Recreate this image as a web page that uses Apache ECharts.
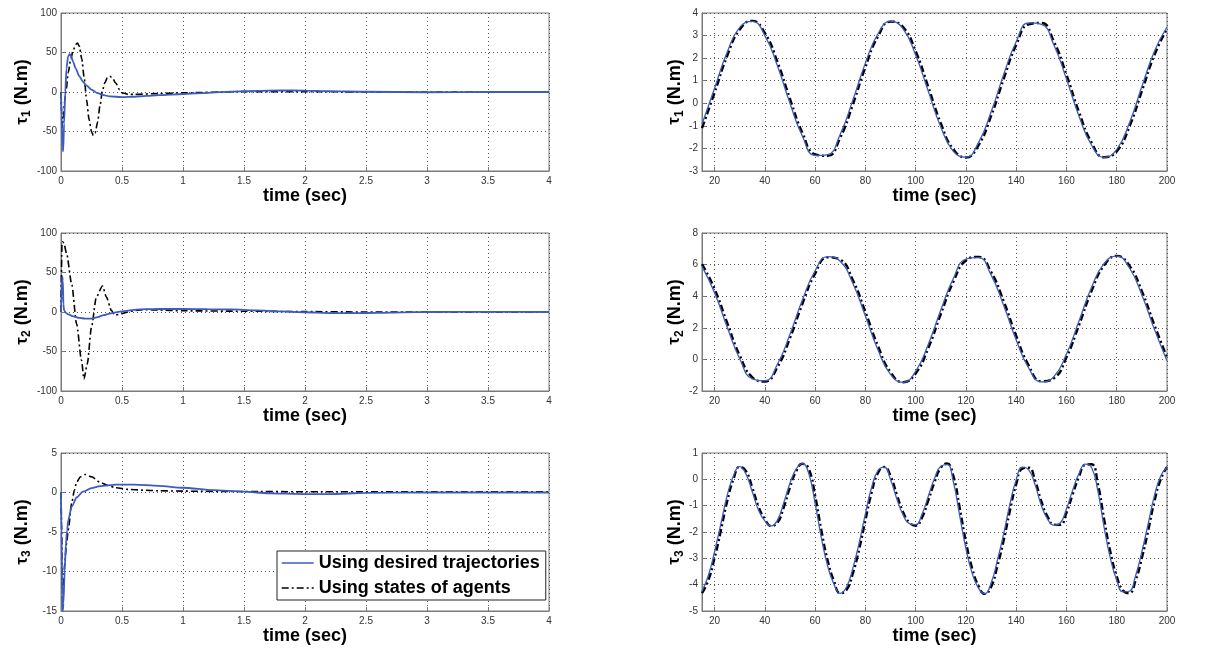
<!DOCTYPE html>
<html>
<head>
<meta charset="utf-8">
<script src="https://cdn.jsdelivr.net/npm/echarts@6/dist/echarts.min.js"></script>
<style>
  html, body { margin: 0; padding: 0; background: #ffffff; }
  #main { width: 1210px; height: 649px; }
</style>
</head>
<body>
<div id="main"></div>
<script>
// ---------- Transient joint torques, 0 .. 4 s ----------
const tau1DesT = [0, 0.005, 0.012, 0.018, 0.025, 0.035, 0.045, 0.058, 0.07, 0.082, 0.1, 0.12, 0.15, 0.18, 0.21, 0.25, 0.3, 0.35, 0.4, 0.5, 0.6, 0.7, 0.8, 1.0, 1.2, 1.4, 1.6, 1.8, 2.0, 2.2, 2.5, 3.0, 3.5, 4.0];
const tau1DesV = [0, -30, -70, -75, -40, 0, 30, 45, 48, 46, 38, 30, 20, 13, 8, 3, -1.5, -4, -5.5, -6.5, -6, -5, -4, -2.5, -1, 0.5, 1.5, 2, 1.8, 1, 0.3, -0.3, 0, 0];
const tau1StT = [0, 0.005, 0.011, 0.02, 0.03, 0.04, 0.06, 0.08, 0.1, 0.12, 0.135, 0.15, 0.17, 0.19, 0.21, 0.23, 0.25, 0.265, 0.28, 0.3, 0.32, 0.34, 0.36, 0.38, 0.4, 0.42, 0.45, 0.48, 0.5, 0.55, 0.6, 0.8, 1.0, 1.5, 2.0, 2.5, 3.0, 4.0];
const tau1StV = [0, -25, -45, -30, -12, 0, 25, 42, 53, 60, 62, 58, 42, 18, -10, -35, -50, -55, -52, -38, -17, 2, 12, 18, 20, 18, 11, 3, -1, -3, -3, -2, -1, 0.5, 0.5, 0, 0, 0];

const tau2DesT = [0, 0.005, 0.01, 0.015, 0.02, 0.025, 0.04, 0.06, 0.1, 0.15, 0.2, 0.25, 0.3, 0.35, 0.4, 0.5, 0.6, 0.7, 0.8, 1.0, 1.2, 1.4, 1.6, 1.8, 2.0, 2.2, 2.4, 2.6, 2.8, 3.0, 3.5, 4.0];
const tau2DesV = [0, 20, 45, 40, 10, 2, -1, -3, -5.5, -7.5, -8.3, -8.3, -6.5, -4, -2, 0.8, 2.8, 3.6, 3.8, 3.8, 3.6, 3.2, 2, 0.8, -0.3, -1.3, -1.5, -1, -0.4, 0, 0.2, 0];
const tau2StT = [0, 0.008, 0.015, 0.025, 0.046, 0.087, 0.128, 0.168, 0.188, 0.215, 0.25, 0.29, 0.34, 0.372, 0.413, 0.44, 0.48, 0.5, 0.55, 0.6, 0.7, 0.8, 1.0, 1.5, 2.0, 2.5, 3.0, 4.0];
const tau2StV = [0, 85, 89, 86, 74, 36, -15, -61, -85, -66, -19, 19, 33, 19, 2, -4, -3, -2, 0, 2, 3, 2.5, 1.5, 1, 0.5, 0, 0, 0];

const tau3DesT = [0, 0.004, 0.01, 0.015, 0.02, 0.03, 0.04, 0.05, 0.06, 0.087, 0.13, 0.18, 0.25, 0.32, 0.45, 0.6, 0.8, 1.0, 1.25, 1.5, 1.7, 2.0, 2.2, 2.5, 3.0, 4.0];
const tau3DesV = [0, -5, -13, -15, -14, -10, -6.5, -4.8, -3.5, -1.8, -0.6, 0.1, 0.55, 0.8, 1.0, 1.0, 0.85, 0.6, 0.3, 0.1, -0.1, -0.2, -0.2, -0.05, 0, 0];
const tau3StT = [0, 0.005, 0.01, 0.015, 0.02, 0.03, 0.045, 0.06, 0.087, 0.11, 0.128, 0.16, 0.2, 0.25, 0.32, 0.38, 0.45, 0.55, 0.67, 0.8, 1.0, 1.5, 2.0, 3.0, 4.0];
const tau3StV = [0, -4, -11, -12.5, -12, -9, -6.5, -4.7, -1.4, 0.3, 1.3, 2.0, 2.27, 2.0, 1.3, 0.9, 0.6, 0.4, 0.3, 0.22, 0.17, 0.12, 0.1, 0.1, 0.1];

// ---------- Steady-state joint torques, 15 .. 200 s ----------
const timeStep5 = [15, 20, 25, 30, 35, 40, 45, 50, 55, 60, 65, 70, 75, 80, 85, 90, 95, 100, 105, 110, 115, 120, 125, 130, 135, 140, 145, 150, 155, 160, 165, 170, 175, 180, 185, 190, 195, 200];
const timeStep25 = [15, 17.5, 20, 22.5, 25, 27.5, 30, 32.5, 35, 37.5, 40, 42.5, 45, 47.5, 50, 52.5, 55, 57.5, 60, 62.5, 65, 67.5, 70, 72.5, 75, 77.5, 80, 82.5, 85, 87.5, 90, 92.5, 95, 97.5, 100, 102.5, 105, 107.5, 110, 112.5, 115, 117.5, 120, 122.5, 125, 127.5, 130, 132.5, 135, 137.5, 140, 142.5, 145, 147.5, 150, 152.5, 155, 157.5, 160, 162.5, 165, 167.5, 170, 172.5, 175, 177.5, 180, 182.5, 185, 187.5, 190, 192.5, 195, 197.5, 200];

const tau1DesSS = [-0.93, 0.67, 2.26, 3.36, 3.63, 3.00, 1.66, 0.00, -1.47, -2.31, -2.27, -1.37, 0.14, 1.78, 3.08, 3.64, 3.30, 2.14, 0.54, -1.05, -2.13, -2.39, -1.74, -0.39, 1.27, 2.73, 3.56, 3.50, 2.58, 1.07, -0.57, -1.86, -2.40, -2.04, -0.88, 0.74, 2.31, 3.38];
const tau1StSS = [-1.10, 0.47, 2.09, 3.27, 3.65, 3.12, 1.84, 0.20, -1.32, -2.26, -2.33, -1.52, -0.06, 1.60, 2.96, 3.62, 3.38, 2.31, 0.74, -0.88, -2.04, -2.40, -1.86, -0.57, 1.07, 2.58, 3.50, 3.56, 2.73, 1.27, -0.39, -1.74, -2.39, -2.13, -1.05, 0.54, 2.14, 3.30];

const tau2DesSS = [5.89, 4.22, 2.05, 0.04, -1.23, -1.35, -0.31, 1.59, 3.79, 5.61, 6.51, 6.21, 4.82, 2.75, 0.61, -0.95, -1.45, -0.75, 0.95, 3.12, 5.12, 6.35, 6.44, 5.35, 3.43, 1.23, -0.56, -1.42, -1.09, 0.34, 2.43, 4.56, 6.08, 6.54, 5.80, 4.08, 1.90, -0.08];
const tau2StSS = [6.03, 4.46, 2.32, 0.25, -1.13, -1.40, -0.49, 1.34, 3.54, 5.43, 6.46, 6.31, 5.03, 3.01, 0.85, -0.81, -1.45, -0.89, 0.71, 2.86, 4.91, 6.26, 6.49, 5.54, 3.69, 1.49, -0.39, -1.38, -1.19, 0.13, 2.17, 4.33, 5.95, 6.55, 5.95, 4.32, 2.17, 0.13];

const tau3DesSS = [-4.25, -3.66, -2.75, -1.69, -0.62, 0.13, 0.48, 0.20, -0.47, -1.17,
  -1.58, -1.77, -1.55, -0.90, -0.15, 0.40, 0.60, 0.21, -0.91, -2.23,
  -3.29, -3.98, -4.33, -4.09, -3.38, -2.42, -1.31, -0.30, 0.33, 0.46,
  -0.01, -0.74, -1.35, -1.68, -1.72, -1.33, -0.65, 0.03, 0.50, 0.56,
  -0.10, -1.37, -2.63, -3.57, -4.13, -4.34, -3.94, -3.08, -2.07, -0.94,
  -0.02, 0.46, 0.36, -0.20, -0.99, -1.51, -1.74, -1.66, -1.12, -0.40,
  0.22, 0.58, 0.45, -0.45, -1.83, -3.01, -3.83, -4.27, -4.25, -3.66,
  -2.75, -1.69, -0.62, 0.13, 0.46];
const tau3StSS = [-4.32, -3.84, -2.99, -1.95, -0.84, 0.00, 0.47, 0.31, -0.31, -1.04,
  -1.51, -1.77, -1.65, -1.07, -0.31, 0.31, 0.59, 0.39, -0.62, -1.94,
  -3.08, -3.86, -4.32, -4.20, -3.58, -2.67, -1.56, -0.50, 0.24, 0.47,
  0.13, -0.58, -1.24, -1.64, -1.76, -1.46, -0.81, -0.11, 0.44, 0.60,
  0.13, -1.07, -2.37, -3.39, -4.04, -4.35, -4.09, -3.30, -2.33, -1.19,
  -0.19, 0.41, 0.44, -0.04, -0.83, -1.42, -1.72, -1.73, -1.27, -0.56,
  0.10, 0.55, 0.57, -0.18, -1.52, -2.77, -3.68, -4.22, -4.32, -3.84,
  -2.99, -1.95, -0.84, 0.00, 0.47];

// ---------- Axis ticks ----------
const rightTimeTicks = [20, 40, 60, 80, 100, 120, 140, 160, 180, 200];
const seriesNames = ['Using desired trajectories', 'Using states of agents'];

// ---------- Layout of the six axes ----------
const zip = (xs, ys) => xs.map((x, i) => [x, ys[i]]);
const rows = [13, 233, 453];
const panels = [
  { top: rows[0], side: 'L', idx: '1', y: [-100, 100, 50], des: zip(tau1DesT, tau1DesV), st: zip(tau1StT, tau1StV) },
  { top: rows[1], side: 'L', idx: '2', y: [-100, 100, 50], des: zip(tau2DesT, tau2DesV), st: zip(tau2StT, tau2StV) },
  { top: rows[2], side: 'L', idx: '3', y: [-15, 5, 5],     des: zip(tau3DesT, tau3DesV), st: zip(tau3StT, tau3StV) },
  { top: rows[0], side: 'R', idx: '1', y: [-3, 4, 1],      des: zip(timeStep5, tau1DesSS), st: zip(timeStep5, tau1StSS) },
  { top: rows[1], side: 'R', idx: '2', y: [-2, 8, 2],      des: zip(timeStep5, tau2DesSS), st: zip(timeStep5, tau2StSS) },
  { top: rows[2], side: 'R', idx: '3', y: [-5, 1, 1],      des: zip(timeStep25, tau3DesSS), st: zip(timeStep25, tau3StSS) }
];

const boxColor = '#7a7a7a';
const fontFam = 'Liberation Sans, Arial, sans-serif';
const labelStyle = { fontSize: 10, color: '#333', fontFamily: fontFam };
const gridLine = { show: true, lineStyle: { color: '#555', type: [1, 3], width: 1 } };
const titleFont = { fontSize: 18, fontWeight: 'bold', color: '#000', fontFamily: fontFam };
const blue = '#3c5cc0';
const dashDot = [7, 3, 2, 3];

const grid = [], xAxis = [], yAxis = [], series = [];
panels.forEach((p, i) => {
  const isL = p.side === 'L';
  grid.push({
    left: isL ? 61 : 702, top: p.top, width: isL ? 488 : 465, height: 158,
    show: true, borderColor: boxColor, borderWidth: 1, containLabel: false
  });
  const xa = {
    type: 'value', gridIndex: i,
    name: 'time (sec)', nameLocation: 'middle', nameGap: 16, nameTextStyle: titleFont,
    axisLine: { show: true, onZero: false, lineStyle: { color: boxColor } },
    axisTick: { show: true, inside: true, length: 4, lineStyle: { color: boxColor } },
    axisLabel: Object.assign({ margin: 5 }, labelStyle),
    splitLine: gridLine
  };
  if (isL) {
    Object.assign(xa, { min: 0, max: 4, interval: 0.5 });
  } else {
    Object.assign(xa, { min: 15, max: 200 });
    xa.axisTick.customValues = rightTimeTicks;
    xa.axisLabel.customValues = rightTimeTicks;
  }
  xAxis.push(xa);
  yAxis.push({
    type: 'value', gridIndex: i, min: p.y[0], max: p.y[1], interval: p.y[2],
    name: '{g|τ}{s|' + p.idx + '}{n| (N.m)}',
    nameLocation: 'middle', nameGap: isL ? 28 : 10,
    nameTextStyle: {
      rich: {
        g: { fontSize: 17, fontWeight: 'bold', color: '#000', fontFamily: fontFam, verticalAlign: 'middle', lineHeight: 20 },
        s: { fontSize: 12, fontWeight: 'bold', color: '#000', fontFamily: fontFam, verticalAlign: 'bottom', padding: [9, 0, 0, 0] },
        n: Object.assign({ verticalAlign: 'middle', lineHeight: 20 }, titleFont)
      }
    },
    axisLine: { show: true, onZero: false, lineStyle: { color: boxColor } },
    axisTick: { show: true, inside: true, length: 4, lineStyle: { color: boxColor } },
    axisLabel: Object.assign({ margin: 4 }, labelStyle),
    splitLine: gridLine
  });
  const smoothing = isL ? { smooth: 0.25, smoothMonotone: 'x' } : { smooth: true };
  series.push(Object.assign({
    name: seriesNames[1], type: 'line', xAxisIndex: i, yAxisIndex: i, data: p.st,
    symbol: 'none', showSymbol: false,
    lineStyle: { color: '#000', width: isL ? 1.6 : 2.4, type: dashDot },
    itemStyle: { color: '#000' }, z: 2
  }, smoothing));
  series.push(Object.assign({
    name: seriesNames[0], type: 'line', xAxisIndex: i, yAxisIndex: i, data: p.des,
    symbol: 'none', showSymbol: false,
    lineStyle: { color: blue, width: isL ? 1.8 : 1.3 },
    itemStyle: { color: blue }, z: 3
  }, smoothing));
});

const chart = echarts.init(document.getElementById('main'), null, { renderer: 'canvas' });
chart.setOption({
  backgroundColor: '#ffffff',
  animation: false,
  grid, xAxis, yAxis, series,
  legend: {
    data: seriesNames,
    orient: 'vertical', left: 277, top: 551,
    itemWidth: 32, itemHeight: 14, itemGap: 7,
    padding: [3, 6, 3, 4],
    borderColor: '#222', borderWidth: 1, backgroundColor: '#ffffff',
    selectedMode: false,
    itemStyle: { opacity: 0 },
    lineStyle: { width: 1.4 },
    textStyle: { fontSize: 18, fontWeight: 'bold', color: '#000', fontFamily: fontFam },
    z: 10
  }
});
</script>
</body>
</html>
